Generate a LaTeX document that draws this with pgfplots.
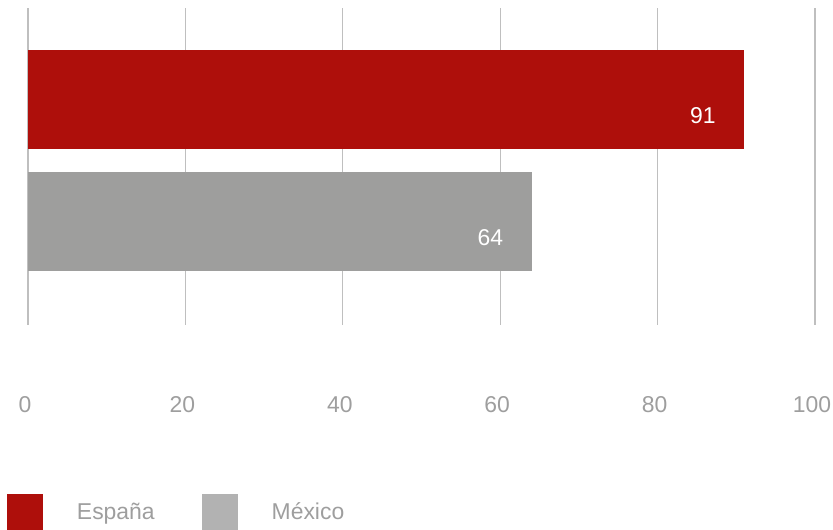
\documentclass[border=0pt]{standalone}
\usepackage{fontspec}
\setmainfont{Liberation Sans}
\usepackage{pgfplots}
\pgfplotsset{compat=1.18}
\definecolor{rojo}{HTML}{AE0F0B}
\definecolor{gris}{HTML}{9E9E9D}
\definecolor{grisleg}{HTML}{B2B2B2}
\definecolor{txt}{HTML}{9E9E9E}
\definecolor{grid}{HTML}{C4C4C4}
\begin{document}
\begin{tikzpicture}[x=1bp,y=1bp]
\path[use as bounding box] (0,0) rectangle (833,530);
\begin{axis}[
  at={(28bp,205bp)}, anchor=south west,
  scale only axis, width=787bp, height=317bp,
  xbar, bar width=0.808, bar shift=0pt,
  xmin=0, xmax=100, ymin=-0.841, ymax=1.747,
  xtick={0,20,40,60,80,100}, ytick=\empty,
  xmajorgrids, major grid style={grid, line width=1.3bp},
  axis line style={draw=none}, major tick length=0pt,
  /pgf/number format/assume math mode=true,
  font=\fontsize{23}{27}\selectfont,
  xticklabel style={anchor=center, yshift=-80bp, xshift=-3bp, text=txt},
  nodes near coords,
  nodes near coords style={anchor=east, xshift=-25bp, yshift=-16bp, text=white, font=\fontsize{23}{27}\selectfont},
  legend image code/.code={\fill[#1,draw=none] (0bp,-18bp) rectangle (36bp,18bp);},
  legend columns=2,
  legend style={draw=none, fill=none, inner sep=0pt, outer sep=0pt,
    at={(-0.0267,-0.533)}, anchor=north west,
    nodes={inner sep=0pt, text=txt},
    /tikz/every odd column/.append style={column sep=34bp},
    /tikz/every even column/.append style={column sep=47bp}},
]
\addplot[fill=rojo, draw=none, forget plot] coordinates {(91,1)};
\addplot[fill=gris, draw=none, forget plot] coordinates {(64,0)};
\addlegendimage{fill=rojo, draw=none}
\addlegendentry{España}
\addlegendimage{fill=grisleg, draw=none}
\addlegendentry{México}
\end{axis}
\end{tikzpicture}
\end{document}
